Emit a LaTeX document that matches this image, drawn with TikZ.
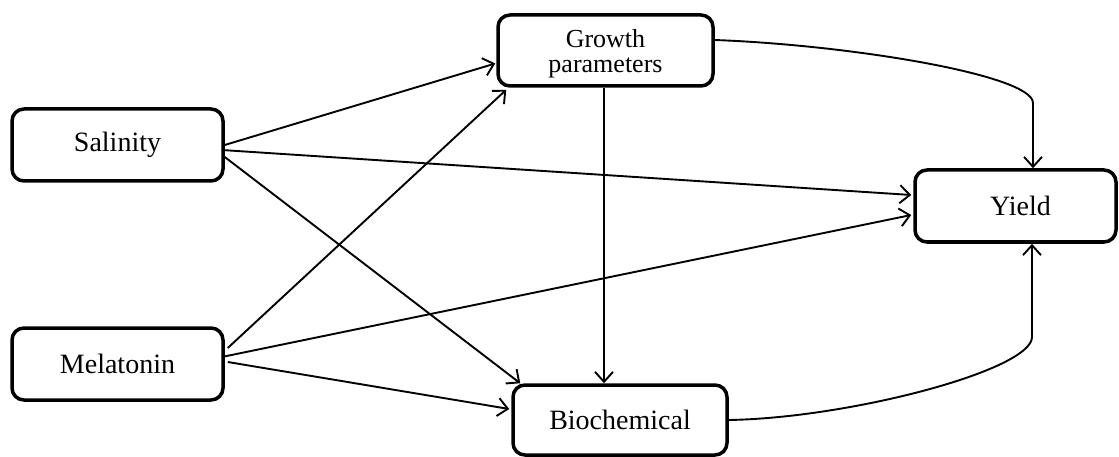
\documentclass[tikz,border=0pt]{standalone}
\usepackage{fontspec}
\setmainfont{Liberation Serif}
\usetikzlibrary{arrows.meta,calc}
\begin{document}
\begin{tikzpicture}[x=1pt,y=-1pt,
  box/.style={draw, line width=3.5pt, rounded corners=12pt, inner sep=0pt,
              font=\fontsize{28}{30}\selectfont, align=center},
  conn/.style={line width=1.9pt, -{Straight Barb[length=10pt,width=18pt,line width=1.9pt]}}]
\useasboundingbox (0,0) rectangle (1119,457);
\node[box, minimum width=211pt, minimum height=72pt] (sal) at (117.5,145) {Salinity};
\node[box, minimum width=211pt, minimum height=72pt] (mel) at (117.5,364) {Melatonin};
\node[box, minimum width=215pt, minimum height=71pt, font=\fontsize{26}{25}\selectfont] (grow) at (605.5,50.5) {\raisebox{-4pt}[\height][\depth]{\begin{tabular}{@{}c@{}}Growth\\parameters\end{tabular}}};
\node[box, minimum width=214pt, minimum height=70pt] (bio) at (620,420) {Biochemical};
\node[box, minimum width=201pt, minimum height=72pt] (yield) at (1015.5,206) {\hspace*{10pt}Yield};
% Salinity
\draw[conn] (sal.east) -- ($(grow.west)+(-1,13)$);
\draw[conn] ($(sal.east)+(-3,5)$) -- ($(yield.west)+(-2,-11)$);
\draw[conn] ($(sal.east)+(0,12)$) -- ($(bio.north west)+(9,0)$);
% Melatonin
\draw[conn] ($(mel.east)+(3,-16)$) -- ($(grow.south west)+(10,2)$);
\draw[conn] ($(mel.east)+(-3,-7)$) -- ($(yield.west)+(-2,9)$);
\draw[conn] ($(mel.east)+(3,-2)$) -- ($(bio.west)+(-2,-11)$);
% Growth
\draw[conn] ($(grow.south)+(-1.5,0)$) -- ($(grow.south |- bio.north)+(-1.5,0)$);
\draw[conn] ($(grow.east)+(0,-10.5)$) .. controls (850,45) and (1033,75) .. (1033,103) -- ($(yield.north)+(17.5,0)$);
% Biochemical
\draw[conn] (bio.east) .. controls (850,418) and (1032,370) .. (1032,337) -- ($(yield.south)+(16.5,0)$);
\end{tikzpicture}
\end{document}
